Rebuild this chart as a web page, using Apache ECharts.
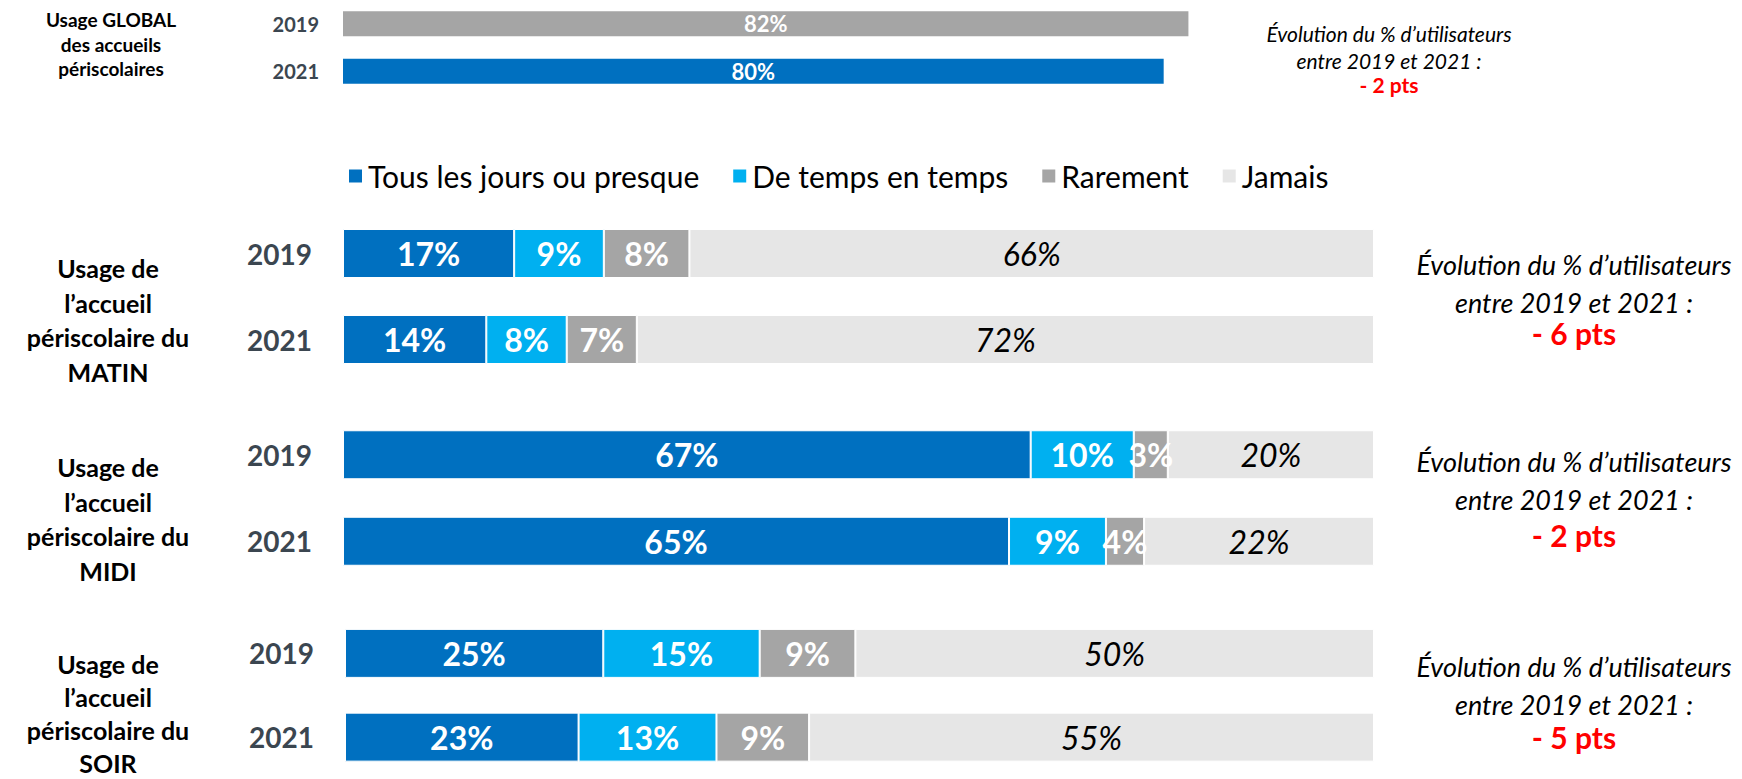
<!DOCTYPE html>
<html>
<head>
<meta charset="utf-8">
<script src="https://cdn.jsdelivr.net/npm/echarts@6/dist/echarts.min.js"></script>
<style>
  html, body { margin: 0; padding: 0; background: #fff; }
  #chart { width: 1742px; height: 779px; }
</style>
</head>
<body>
<div id="chart"></div>
<script>
// données
var years = ['2019', '2021'];
var globalUsage = [82, 79.6];

var categories = ['Tous les jours ou presque', 'De temps en temps', 'Rarement', 'Jamais'];
var colors = ['#0070C0', '#00B0F0', '#A5A5A5', '#E6E6E6'];

var matinTous = [16.6, 13.9];
var matinTemps = [8.7, 7.8];
var matinRare = [8.3, 6.8];
var matinJamais = [66.4, 71.5];

var midiTous = [66.7, 64.6];
var midiTemps = [10.0, 9.4];
var midiRare = [3.3, 3.7];
var midiJamais = [20.0, 22.3];

var soirTous = [25.1, 22.7];
var soirTemps = [15.2, 13.4];
var soirRare = [9.3, 9.0];
var soirJamais = [50.4, 54.9];

var groupLabels = [
    'Usage de\nl\u2019accueil\npériscolaire du\nMATIN',
    'Usage de\nl\u2019accueil\npériscolaire du\nMIDI',
    'Usage de\nl\u2019accueil\npériscolaire du\nSOIR'
];
var evolution = ['- 2 pts', '- 6 pts', '- 2 pts', '- 5 pts'];
var evolutionText = '\u00C9volution du % d\u2019utilisateurs\nentre 2019 et 2021 :';

var FONT = 'Lato, "Open Sans", sans-serif';

var myChart = echarts.init(document.getElementById('chart'), null, { renderer: 'svg' });

// une grille par bloc : global, matin, midi, soir
var grids = [
    { left: 343, width: 1031, top: -3, height: 98 },
    { left: 343, width: 1031, top: 210.5, height: 172 },
    { left: 343, width: 1031, top: 411.5, height: 173 },
    { left: 345, width: 1029, top: 611.5, height: 174 }
];

var xAxes = grids.map(function (g, i) {
    return { type: 'value', gridIndex: i, min: 0, max: 100, show: false };
});
var yAxes = grids.map(function (g, i) {
    return {
        type: 'category',
        gridIndex: i,
        data: years,
        inverse: true,
        axisLine: { show: false },
        axisTick: { show: false },
        axisLabel: {
            margin: i === 0 ? 24 : 31,
            color: '#3B4650',
            fontFamily: FONT,
            fontWeight: 'bold',
            fontSize: i === 0 ? 20 : 28
        }
    };
});

var pct = function (p) { return Math.round(p.value) + '%'; };

var series = [{
    name: 'Usage global',
    type: 'bar',
    xAxisIndex: 0,
    yAxisIndex: 0,
    barWidth: 25,
    data: [
        { value: globalUsage[0], itemStyle: { color: '#A5A5A5' } },
        { value: globalUsage[1], itemStyle: { color: '#0070C0' } }
    ],
    label: {
        show: true,
        position: 'inside',
        color: '#fff',
        fontFamily: FONT,
        fontWeight: 'bold',
        fontSize: 22,
        formatter: pct
    }
}];

var blocks = [
    [matinTous, matinTemps, matinRare, matinJamais],
    [midiTous, midiTemps, midiRare, midiJamais],
    [soirTous, soirTemps, soirRare, soirJamais]
];

blocks.forEach(function (block, b) {
    block.forEach(function (values, k) {
        var jamais = k === 3;
        series.push({
            name: categories[k],
            type: 'bar',
            stack: 'bloc' + b,
            xAxisIndex: b + 1,
            yAxisIndex: b + 1,
            barWidth: 49,
            data: values,
            itemStyle: { color: colors[k], borderColor: '#fff', borderWidth: 1 },
            label: {
                show: true,
                position: 'inside',
                color: jamais ? '#000' : '#fff',
                fontFamily: FONT,
                fontWeight: jamais ? 'normal' : 'bold',
                fontStyle: jamais ? 'italic' : 'normal',
                fontSize: 32,
                formatter: pct
            }
        });
    });
});

function textEl(x, y, text, font, fill, lineHeight) {
    return {
        type: 'text',
        x: x,
        y: y,
        style: {
            text: text,
            font: font,
            fill: fill,
            textAlign: 'center',
            align: 'center',
            textVerticalAlign: 'middle',
            verticalAlign: 'middle',
            lineHeight: lineHeight
        }
    };
}

var graphics = [];
// bloc global
graphics.push(textEl(111, 44, 'Usage GLOBAL\ndes accueils\npériscolaires', 'bold 19px ' + FONT, '#000', 24.5));
graphics.push(textEl(1389, 47, evolutionText, 'italic 21px ' + FONT, '#000', 27));
graphics.push(textEl(1389, 84, evolution[0], 'bold 21px ' + FONT, '#FF0000', 22));

var groupCenters = [320, 519, 713];
var groupLine = [34.5, 34.5, 33];
var evoCenters = [283, 480, 685];
var ptsY = [333, 535, 737];
groupLabels.forEach(function (t, i) {
    graphics.push(textEl(108, groupCenters[i], t, 'bold 25px ' + FONT, '#000', groupLine[i]));
    graphics.push(textEl(1574, evoCenters[i], evolutionText, 'italic 27px ' + FONT, '#000', 38));
    graphics.push(textEl(1574, ptsY[i], evolution[i + 1], 'bold 30px ' + FONT, '#FF0000', 32));
});

var option = {
    animation: false,
    backgroundColor: '#fff',
    legend: {
        data: categories,
        left: 342,
        top: 156,
        icon: 'rect',
        itemWidth: 15,
        itemHeight: 15,
        itemGap: 32,
        textStyle: { fontFamily: FONT, fontSize: 30, color: '#000' }
    },
    grid: grids,
    xAxis: xAxes,
    yAxis: yAxes,
    series: series,
    graphic: graphics
};

myChart.setOption(option);
</script>
</body>
</html>
